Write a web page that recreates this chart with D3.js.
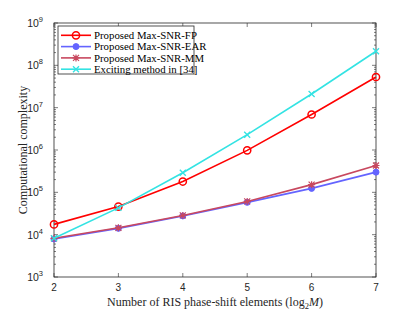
<!DOCTYPE html>
<html>
<head>
<meta charset="utf-8">
<script src="https://cdn.jsdelivr.net/npm/d3@7"></script>
<style>
  body { margin: 0; background: #fff; }
  svg { display: block; }
</style>
</head>
<body>
<script>
// data
var xs = [2, 3, 4, 5, 6, 7];
var fp = [1.75e4, 4.6e4, 1.8e5, 9.8e5, 6.9e6, 5.3e7];
var ear = [7.9e3, 1.41e4, 2.77e4, 5.8e4, 1.24e5, 3.0e5];
var mm = [8.2e3, 1.45e4, 2.85e4, 6.1e4, 1.52e5, 4.3e5];
var exc = [8.2e3, 4.3e4, 2.9e5, 2.3e6, 2.1e7, 2.15e8];
var names = ["Proposed Max-SNR-FP", "Proposed Max-SNR-EAR", "Proposed Max-SNR-MM", "Exciting method in [34]"];
var yExps = [3, 4, 5, 6, 7, 8, 9];

var W = 415, H = 312;
var m = {l: 54, r: 39, t: 23, b: 35};

var series = [
  {name: names[0], v: fp, color: "#ff0000", marker: "circle"},
  {name: names[1], v: ear, color: "#6464ff", marker: "dot"},
  {name: names[2], v: mm, color: "#c8485f", marker: "star"},
  {name: names[3], v: exc, color: "#33e3e3", marker: "cross"}
];

var svg = d3.select("body").append("svg")
    .attr("width", W)
    .attr("height", H);

var x = d3.scaleLinear().domain([2, 7]).range([m.l, W - m.r]);
var y = d3.scaleLog().domain([1e3, 1e9]).range([H - m.b, m.t]);

var tickFont = "'Liberation Sans', Arial, sans-serif";
var serif = "'Liberation Serif', 'Times New Roman', serif";

// ticks (inside, mirrored)
var g = svg.append("g").attr("stroke", "#262626").attr("stroke-width", 0.6);
xs.forEach(function (d) {
  g.append("line").attr("x1", x(d)).attr("x2", x(d)).attr("y1", y(1e3)).attr("y2", y(1e3) - 4);
  g.append("line").attr("x1", x(d)).attr("x2", x(d)).attr("y1", y(1e9)).attr("y2", y(1e9) + 4);
});
yExps.forEach(function (e, i) {
  var v = Math.pow(10, e);
  g.append("line").attr("x1", x(2)).attr("x2", x(2) + 4).attr("y1", y(v)).attr("y2", y(v));
  g.append("line").attr("x1", x(7)).attr("x2", x(7) - 4).attr("y1", y(v)).attr("y2", y(v));
  if (i < yExps.length - 1) {
    for (var k = 2; k < 10; k++) {
      g.append("line").attr("x1", x(2)).attr("x2", x(2) + 2).attr("y1", y(k * v)).attr("y2", y(k * v));
      g.append("line").attr("x1", x(7)).attr("x2", x(7) - 2).attr("y1", y(k * v)).attr("y2", y(k * v));
    }
  }
});

svg.append("rect")
    .attr("x", m.l).attr("y", m.t)
    .attr("width", W - m.l - m.r).attr("height", H - m.t - m.b)
    .attr("fill", "none").attr("stroke", "#262626").attr("stroke-width", 0.8);

// tick labels
svg.append("g").selectAll("text").data(xs).enter().append("text")
    .attr("x", function (d) { return x(d); })
    .attr("y", y(1e3) + 14)
    .attr("text-anchor", "middle")
    .attr("font-family", tickFont).attr("font-size", 10).attr("fill", "#262626")
    .text(function (d) { return d; });

var yl = svg.append("g").selectAll("text").data(yExps).enter().append("text")
    .attr("x", m.l - 11)
    .attr("y", function (e) { return y(Math.pow(10, e)) + 4; })
    .attr("text-anchor", "end")
    .attr("font-family", tickFont).attr("font-size", 10.5).attr("fill", "#262626");
yl.append("tspan").text("10");
yl.append("tspan").attr("dy", -5).attr("font-size", 7.5).text(function (e) { return e; });

// axis titles
var xt = svg.append("text")
    .attr("x", (m.l + W - m.r) / 2).attr("y", H - 6)
    .attr("text-anchor", "middle")
    .attr("font-family", serif).attr("font-size", 12).attr("fill", "#262626");
xt.append("tspan").text("Number of RIS phase-shift elements (log");
xt.append("tspan").attr("dy", 2.5).attr("font-size", 8.5).text("2");
xt.append("tspan").attr("dy", -2.5).attr("font-style", "italic").text("M");
xt.append("tspan").text(")");

svg.append("text")
    .attr("transform", "translate(27," + ((m.t + H - m.b) / 2) + ") rotate(-90)")
    .attr("text-anchor", "middle")
    .attr("font-family", serif).attr("font-size", 12).attr("fill", "#262626")
    .text("Computational complexity");

function drawMarker(sel, type, color) {
  if (type === "circle") {
    sel.append("circle").attr("r", 3.6).attr("fill", "none").attr("stroke", color).attr("stroke-width", 1.5);
  } else if (type === "dot") {
    sel.append("circle").attr("r", 3).attr("fill", color).attr("stroke", color);
  } else if (type === "star") {
    sel.append("path").attr("d", "M-3,-3L3,3M-3,3L3,-3M0,-3.5L0,3.5M-3.5,0L3.5,0")
        .attr("stroke", color).attr("stroke-width", 1.2);
  } else {
    sel.append("path").attr("d", "M-3,-3L3,3M-3,3L3,-3")
        .attr("stroke", color).attr("stroke-width", 1.3);
  }
}

var line = d3.line()
    .x(function (d, i) { return x(xs[i]); })
    .y(function (d) { return y(d); });

var plot = svg.append("g");
series.forEach(function (s) {
  plot.append("path").attr("d", line(s.v))
      .attr("fill", "none").attr("stroke", s.color).attr("stroke-width", 1.6);
  s.v.forEach(function (v, i) {
    var mk = plot.append("g").attr("transform", "translate(" + x(xs[i]) + "," + y(v) + ")");
    drawMarker(mk, s.marker, s.color);
  });
});

// legend
var lg = svg.append("g").attr("transform", "translate(58,26)");
lg.append("rect").attr("width", 136).attr("height", 48)
    .attr("fill", "#fff").attr("stroke", "#262626").attr("stroke-width", 0.8);
series.forEach(function (s, i) {
  var row = lg.append("g").attr("transform", "translate(0," + (9.3 + i * 11.3) + ")");
  row.append("line").attr("x1", 3).attr("x2", 33).attr("stroke", s.color).attr("stroke-width", 1.6);
  drawMarker(row.append("g").attr("transform", "translate(18,0)"), s.marker, s.color);
  row.append("text").attr("x", 36).attr("y", 3.6)
      .attr("font-family", serif).attr("font-size", 10.8).attr("fill", "#000")
      .text(s.name);
});
</script>
</body>
</html>
